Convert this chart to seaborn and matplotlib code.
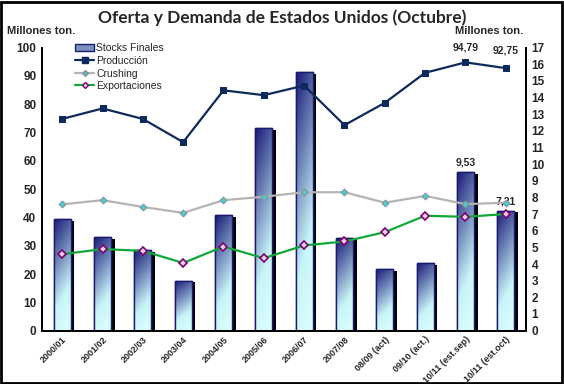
import numpy as np
import pandas as pd
import matplotlib
matplotlib.use("Agg")
import matplotlib.pyplot as plt
import matplotlib.patheffects as pe
from matplotlib.colors import LinearSegmentedColormap
from matplotlib.patches import Rectangle, Patch
from matplotlib.lines import Line2D
import seaborn as sns

categories = ["2000/01", "2001/02", "2002/03", "2003/04", "2004/05", "2005/06",
              "2006/07", "2007/08", "08/09 (act)", "09/10 (act.)",
              "10/11 (est.sep)", "10/11 (est.oct)"]
stocks = [6.71, 5.62, 4.83, 3.01, 6.92, 12.16, 15.54, 5.58, 3.71, 4.07, 9.53, 7.21]
produccion = [74.8, 78.5, 74.8, 66.6, 84.9, 83.2, 86.6, 72.6, 80.5, 91.1, 94.79, 92.75]
crushing = [44.6, 46.1, 43.7, 41.6, 46.1, 47.3, 48.9, 48.9, 45.2, 47.6, 44.7, 45.2]
exportaciones = [27.0, 28.8, 28.2, 23.9, 29.7, 25.6, 30.1, 31.5, 34.8, 40.6, 40.2, 41.2]
left_ticks = list(range(0, 101, 10))
right_ticks = list(range(0, 18, 1))

sns.set_theme(style="white")
narrow = ["Liberation Sans Narrow", "Liberation Sans", "DejaVu Sans"]
plt.rcParams["font.family"] = narrow

fig = plt.figure(figsize=(5.64, 3.84), dpi=100)
ax = fig.add_axes([0.0745, 0.139, 0.858, 0.737])
ax2 = ax.twinx()

df = pd.DataFrame({"cat": categories, "stocks": stocks})
sns.barplot(data=df, x="cat", y="stocks", ax=ax2, width=0.42,
            color="#2a2a80", edgecolor="#1a1a6e", linewidth=1.0, saturation=1)

cmap = LinearSegmentedColormap.from_list("g", ["#1c1c78", "#6f86b8", "#c8f4f8", "#dcffff"])
grad = np.linspace(0, 1, 64).reshape(-1, 1) * np.ones((1, 16))
grad = grad * 0.8 + np.linspace(0, 0.2, 16).reshape(1, -1)
for p in ax2.patches:
    p.set_path_effects([pe.SimplePatchShadow(offset=(2.6, -1.2), shadow_rgbFace="black", alpha=1.0), pe.Normal()])
    x0, y0 = p.get_x(), p.get_y()
    w, h = p.get_width(), p.get_height()
    im = ax2.imshow(grad, cmap=cmap, extent=[x0, x0 + w, y0, y0 + h], origin="upper",
                    aspect="auto", zorder=p.get_zorder() + 0.1, vmin=0, vmax=1)
    im.set_clip_path(p)
    ov = Rectangle((x0, y0), w, h, fill=False, edgecolor="#1a1a6e", linewidth=1.0,
                   zorder=p.get_zorder() + 0.2)
    ax2.add_patch(ov)

x = np.arange(len(categories))
sns.lineplot(x=x, y=produccion, ax=ax, color="#0e2a5c", linewidth=1.6, marker="s",
             markersize=5, markeredgecolor="#0e2a5c", markerfacecolor="#0e2a5c")
sns.lineplot(x=x, y=crushing, ax=ax, color="#b4b4b4", linewidth=1.6, marker="D",
             markersize=3.5, markeredgecolor="#909090", markerfacecolor="#40d0d8")
sns.lineplot(x=x, y=exportaciones, ax=ax, color="#10a838", linewidth=1.6, marker="D",
             markersize=4, markeredgecolor="#800070", markeredgewidth=1.2,
             markerfacecolor="#e8d0e8")

ax.set_zorder(ax2.get_zorder() + 1)
ax.patch.set_visible(False)

ax.set_xlim(-0.5, 11.5)
ax2.set_xlim(-0.5, 11.5)
ax.set_ylim(0, 100)
ax2.set_ylim(0, 17)
ax.set_yticks(left_ticks)
ax2.set_yticks(right_ticks)
ax.set_yticklabels([str(t) for t in left_ticks], fontsize=8.5, fontweight="bold")
ax2.set_yticklabels([str(t) for t in right_ticks], fontsize=8.5, fontweight="bold")
ax.set_xticks(x)
ax.set_xticklabels(categories, rotation=45, ha="right", rotation_mode="anchor",
                   fontsize=6.5, fontweight="bold")
ax2.set_xlabel("")
ax2.set_ylabel("")
ax.set_xlabel("")
ax.set_ylabel("")
ax.tick_params(axis="both", length=0, pad=4)
ax2.tick_params(axis="both", length=0, pad=4)
ax.tick_params(axis="x", pad=3)

for a in (ax, ax2):
    a.spines["top"].set_visible(False)
    for s in ("left", "right", "bottom"):
        a.spines[s].set_color("black")
        a.spines[s].set_linewidth(1.3)

# value labels
fmt = lambda v: f"{v:.2f}".replace(".", ",")
ax.annotate(fmt(produccion[10]), (x[10], produccion[10]), xytext=(0, 7), textcoords="offset points",
            ha="center", va="bottom", fontsize=7.5, fontweight="bold")
ax.annotate(fmt(produccion[11]), (x[11], produccion[11]), xytext=(0, 9), textcoords="offset points",
            ha="center", va="bottom", fontsize=7.5, fontweight="bold")
ax2.annotate(fmt(stocks[10]), (x[10], stocks[10]), xytext=(0, 3), textcoords="offset points",
             ha="center", va="bottom", fontsize=7.5, fontweight="bold")
ax2.annotate(fmt(stocks[11]), (x[11], stocks[11]), xytext=(0, 3), textcoords="offset points",
             ha="center", va="bottom", fontsize=7.5, fontweight="bold")

# axis unit labels
fig.text(0.013, 0.905, "Millones ton.", fontsize=8, fontweight="bold", ha="left", va="bottom")
fig.text(0.928, 0.905, "Millones ton.", fontsize=8, fontweight="bold", ha="right", va="bottom")

fig.text(0.5, 0.955, "Oferta y Demanda de Estados Unidos (Octubre)", ha="center", va="center",
         fontsize=12.5, fontweight="bold", family=["Lato", "DejaVu Sans"])

handles = [
    Patch(facecolor="#7a90c0", edgecolor="#1a1a6e", label="Stocks Finales"),
    Line2D([], [], color="#0e2a5c", lw=1.6, marker="s", ms=4, label="Producción"),
    Line2D([], [], color="#b4b4b4", lw=1.6, marker="D", ms=3, mfc="#40d0d8", mec="#909090", label="Crushing"),
    Line2D([], [], color="#10a838", lw=1.6, marker="D", ms=3, mfc="#e8d0e8", mec="#800070", label="Exportaciones"),
]
leg = ax.legend(handles=handles, loc="upper left", bbox_to_anchor=(0.06, 1.03), frameon=False,
                fontsize=7.5, handlelength=1.8, handletextpad=0.2, labelspacing=0.25,
                borderaxespad=0)

fig.add_artist(Rectangle((0.002, 0.003), 0.995, 0.993, transform=fig.transFigure, fill=False,
                         edgecolor="black", linewidth=2.0))

fig.savefig("out.png", dpi=100)
